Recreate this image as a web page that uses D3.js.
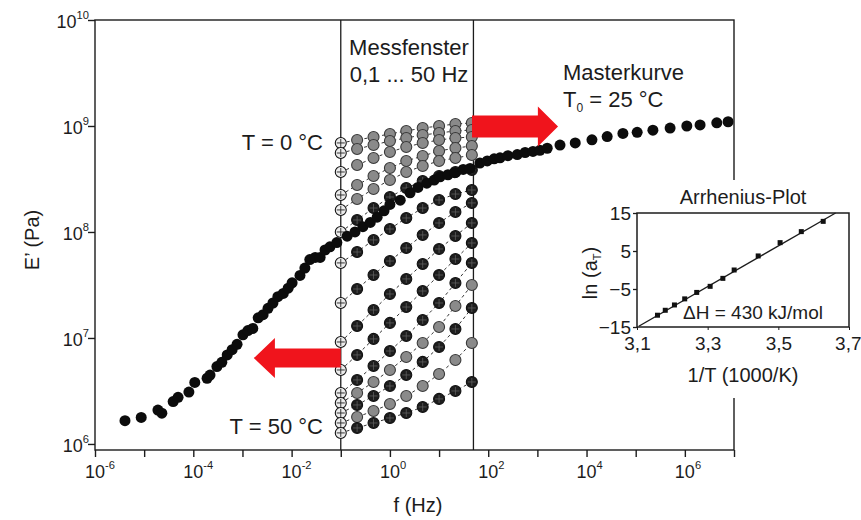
<!DOCTYPE html>
<html>
<head>
<meta charset="utf-8">
<script src="https://cdn.jsdelivr.net/npm/d3@7"></script>
<style>
  body { margin: 0; background: #fff; }
  svg text { font-family: "Liberation Sans", Arial, sans-serif; fill: #1c1c1c; }
</style>
</head>
<body>
<svg id="chart" width="861" height="520"></svg>
<script>
// ---- data (log10 values) ----
const xTickExps = [-6, -5, -4, -3, -2, -1, 0, 1, 2, 3, 4, 5, 6, 7];
const xLabelExps = [-6, -4, -2, 0, 2, 4, 6];
const yTickExps = [6, 7, 8, 9, 10];

// master curve, T0 = 25 °C
const masterLogF = [-5.39, -5.06, -4.72, -4.64, -4.41, -4.31, -4.09, -3.97, -3.72, -3.66,
  -3.52, -3.42, -3.31, -3.21, -3.11, -2.99, -2.89, -2.79, -2.68, -2.58, -2.48, -2.38,
  -2.28, -2.17, -2.07, -1.99, -1.83, -1.73, -1.63, -1.52, -1.42, -1.32, -1.22, -1.08,
  -0.87, -0.71, -0.55, -0.40, -0.26, -0.12, 0.00, 0.21, 0.41, 0.57, 0.75, 0.90, 1.02,
  1.18, 1.32, 1.49, 1.63, 1.83, 1.98, 2.12, 2.24, 2.40, 2.59, 2.75, 2.91, 3.05, 3.20,
  3.46, 3.77, 4.11, 4.42, 4.74, 5.03, 5.35, 5.70, 6.04, 6.31, 6.65, 6.88];
const masterLogE = [6.22, 6.25, 6.32, 6.29, 6.40, 6.44, 6.49, 6.58, 6.62, 6.65,
  6.73, 6.77, 6.84, 6.89, 6.94, 7.03, 7.07, 7.09, 7.19, 7.22, 7.28, 7.33,
  7.39, 7.42, 7.47, 7.52, 7.59, 7.66, 7.74, 7.76, 7.76, 7.83, 7.86, 7.90,
  7.96, 8.00, 8.05, 8.09, 8.14, 8.20, 8.26, 8.30, 8.37, 8.42, 8.46, 8.49, 8.52,
  8.54, 8.56, 8.59, 8.60, 8.65, 8.67, 8.69, 8.70, 8.72, 8.73, 8.75, 8.76, 8.77, 8.79,
  8.82, 8.84, 8.87, 8.90, 8.93, 8.94, 8.96, 8.98, 9.00, 9.01, 9.03, 9.04];

// isotherms in the measuring window, T = 0 °C (top) ... 50 °C (bottom)
const isoFreq = [0.1, 0.215, 0.464, 1, 2.15, 4.64, 10, 21.5, 46.4];
const isoLogE = [
  [8.840, 8.868, 8.896, 8.925, 8.953, 8.981, 9.000, 9.019, 9.028],
  [8.745, 8.783, 8.821, 8.858, 8.887, 8.915, 8.934, 8.953, 8.962],
  [8.566, 8.632, 8.698, 8.755, 8.802, 8.840, 8.868, 8.887, 8.896],
  [8.349, 8.443, 8.528, 8.604, 8.670, 8.717, 8.764, 8.792, 8.811],
  [8.208, 8.311, 8.406, 8.491, 8.566, 8.623, 8.670, 8.698, 8.726],
  [8.000, 8.113, 8.226, 8.330, 8.415, 8.481, 8.528, 8.566, 8.585],
  [7.708, 7.811, 7.925, 8.028, 8.132, 8.226, 8.302, 8.358, 8.396],
  [7.330, 7.462, 7.594, 7.726, 7.849, 7.972, 8.085, 8.189, 8.274],
  [6.962, 7.113, 7.264, 7.415, 7.557, 7.698, 7.840, 7.962, 8.085],
  [6.698, 6.840, 6.991, 7.142, 7.292, 7.443, 7.594, 7.745, 7.896],
  [6.481, 6.604, 6.736, 6.877, 7.019, 7.170, 7.330, 7.519, 7.708],
  [6.387, 6.481, 6.585, 6.698, 6.821, 6.953, 7.104, 7.302, 7.500],
  [6.292, 6.368, 6.453, 6.547, 6.651, 6.774, 6.915, 7.085, 7.283],
  [6.198, 6.255, 6.311, 6.377, 6.453, 6.547, 6.660, 6.792, 6.953],
  [6.104, 6.151, 6.198, 6.245, 6.292, 6.349, 6.425, 6.500, 6.585]
];
const isoShade = ['grey', 'grey', 'grey', 'grey', 'grey', 'dark', 'dark', 'dark',
  'dark', 'dark', 'dark', 'grey', 'dark', 'grey', 'dark'];

// measuring window 0.1 ... 50 Hz
const windowF = [0.1, 50];

// shift arrows: tail, head base, tip (log f) and level (log E')
const arrows = [
  { tail: -1.0, head: -2.34, tip: -2.77, level: 6.81, shaft: 9.5 },
  { tail: 1.67, head: 3.01, tip: 3.42, level: 8.995, shaft: 11 }
];

// Arrhenius inset
const ahInvT = [3.158, 3.180, 3.206, 3.235, 3.269, 3.307, 3.343, 3.375, 3.443, 3.505, 3.565, 3.627];
const ahLnA = [-11.9, -10.6, -9.2, -7.6, -5.9, -4.3, -2.2, 0.0, 3.7, 7.2, 10.1, 12.8];
const ahFitX = [3.105, 3.662];
const ahFitY = [-14.8, 15.0];
const ahXTicks = [3.1, 3.3, 3.5, 3.7];
const ahYTicks = [15, 5, -5, -15];

// ---- drawing ----
const svg = d3.select('#chart');
const INK = '#1c1c1c';

const x = d3.scaleLog().domain([1e-6, 1e7]).range([95, 734]);
const y = d3.scaleLog().domain([Math.pow(10, 5.943), 1e10]).range([450, 20]);
const yBottom = y.range()[0], yTop = y.range()[1];

function powLabel(t, exp, fs) {
  t.append('tspan').text('10');
  t.append('tspan').attr('font-size', fs * 0.62).attr('dy', -fs * 0.48).text(exp);
}

// window lines
svg.append('g').selectAll('line').data(windowF).join('line')
  .attr('x1', d => x(d)).attr('x2', d => x(d))
  .attr('y1', yTop).attr('y2', yBottom)
  .attr('stroke', INK).attr('stroke-width', 1.3);

// isotherm dashed lines
const isoData = isoLogE.map((row, i) => row.map((e, j) => ({ f: isoFreq[j], e: Math.pow(10, e), j, shade: isoShade[i] })));
const line = d3.line().x(d => x(d.f)).y(d => y(d.e));
svg.append('g').selectAll('path').data(isoData).join('path')
  .attr('d', line).attr('fill', 'none')
  .attr('stroke', '#333').attr('stroke-width', 1).attr('stroke-dasharray', '3,3');

// isotherm markers
const R = 5.5;
const marks = svg.append('g').selectAll('g').data(isoData.flat()).join('g')
  .attr('transform', d => `translate(${x(d.f)},${y(d.e)})`);
marks.append('circle').attr('r', R)
  .attr('fill', d => d.j === 0 ? '#ececec' : (d.shade === 'grey' ? '#8a8a8a' : '#1e1e1e'))
  .attr('stroke', d => d.shade === 'grey' && d.j > 0 ? '#3a3a3a' : '#111')
  .attr('stroke-width', 1.1);
marks.filter(d => d.j === 0 || d.shade === 'dark').each(function (d) {
  const g = d3.select(this);
  const c = d.j === 0 ? '#222' : '#666';
  const w = d.j === 0 ? 0.9 : 0.7;
  g.append('line').attr('x1', -R + 1.5).attr('x2', R - 1.5).attr('stroke', c).attr('stroke-width', w);
  g.append('line').attr('y1', -R + 1.5).attr('y2', R - 1.5).attr('stroke', c).attr('stroke-width', w);
});

// master curve
svg.append('g').selectAll('circle').data(masterLogF.map((f, i) => ({ f: Math.pow(10, f), e: Math.pow(10, masterLogE[i]) })))
  .join('circle')
  .attr('cx', d => x(d.f)).attr('cy', d => y(d.e)).attr('r', R).attr('fill', '#0c0c0c');

// frame and axes
svg.append('rect')
  .attr('x', x(1e-6)).attr('y', yTop)
  .attr('width', x(1e7) - x(1e-6)).attr('height', yBottom - yTop)
  .attr('fill', 'none').attr('stroke', INK).attr('stroke-width', 1.4);

svg.append('g').attr('transform', `translate(0,${yBottom})`)
  .call(d3.axisBottom(x).tickValues(xTickExps.map(e => Math.pow(10, e))).tickSize(7).tickFormat(''))
  .call(g => g.select('.domain').remove())
  .call(g => g.selectAll('line').attr('stroke', INK).attr('stroke-width', 1.4));

svg.append('g').attr('transform', `translate(${x(1e-6)},0)`)
  .call(d3.axisLeft(y).tickValues(yTickExps.map(e => Math.pow(10, e))).tickSize(7).tickFormat(''))
  .call(g => g.select('.domain').remove())
  .call(g => g.selectAll('line').attr('stroke', INK).attr('stroke-width', 1.4));

const FS = 18;
svg.append('g').selectAll('text').data(xLabelExps).join('text')
  .attr('x', d => x(Math.pow(10, d)) - 10).attr('y', 478)
  .attr('font-size', FS)
  .each(function (d) { powLabel(d3.select(this), String(d), FS); });

svg.append('g').selectAll('text').data(yTickExps).join('text')
  .attr('x', 89).attr('y', d => y(Math.pow(10, d)) + 8)
  .attr('text-anchor', 'end').attr('font-size', FS)
  .each(function (d) { powLabel(d3.select(this), String(d), FS); });

svg.append('text').attr('x', 418).attr('y', 512).attr('text-anchor', 'middle')
  .attr('font-size', 20).text('f (Hz)');
svg.append('text').attr('transform', 'translate(39,240) rotate(-90)').attr('text-anchor', 'middle')
  .attr('font-size', 20).text('E’ (Pa)');

// shift arrows
svg.append('g').selectAll('path').data(arrows).join('path')
  .attr('d', a => {
    const xt = x(Math.pow(10, a.tail)), xh = x(Math.pow(10, a.head)), xp = x(Math.pow(10, a.tip));
    const cy = y(Math.pow(10, a.level)), hh = 20;
    return d3.line()([[xt, cy - a.shaft], [xh, cy - a.shaft], [xh, cy - hh], [xp, cy],
      [xh, cy + hh], [xh, cy + a.shaft], [xt, cy + a.shaft]]) + 'Z';
  })
  .attr('fill', '#f0141c');

// annotations
const AFS = 22;
svg.append('text').attr('x', 409).attr('y', 55).attr('text-anchor', 'middle').attr('font-size', AFS).text('Messfenster');
svg.append('text').attr('x', 409).attr('y', 82).attr('text-anchor', 'middle').attr('font-size', AFS).text('0,1 ... 50 Hz');
svg.append('text').attr('x', 563).attr('y', 80).attr('font-size', AFS).text('Masterkurve');
const t0 = svg.append('text').attr('x', 563).attr('y', 107).attr('font-size', AFS);
t0.append('tspan').text('T');
t0.append('tspan').attr('font-size', 12).attr('dy', 5).text('0');
t0.append('tspan').attr('dy', -5).text(' = 25 °C');
svg.append('text').attr('x', 323).attr('y', 150).attr('text-anchor', 'end').attr('font-size', AFS).text('T = 0 °C');
svg.append('text').attr('x', 323).attr('y', 434).attr('text-anchor', 'end').attr('font-size', AFS).text('T = 50 °C');

// ---- Arrhenius inset ----
const inset = svg.append('g');
inset.append('rect').attr('x', 578).attr('y', 180).attr('width', 283).attr('height', 218).attr('fill', '#fff');

const ix = d3.scaleLinear().domain([3.1, 3.7]).range([637, 849]);
const iy = d3.scaleLinear().domain([-15, 15]).range([327, 213]);
const IFS = 19;

inset.append('g').attr('transform', 'translate(0,327)')
  .call(d3.axisBottom(ix).tickValues(ahXTicks).tickSize(3).tickPadding(7)
    .tickFormat(d => d3.format('.1f')(d).replace('.', ',')))
  .call(g => g.select('.domain').remove())
  .call(g => g.selectAll('text').attr('font-size', IFS))
  .call(g => g.selectAll('text').filter(d => d === 3.7).attr('text-anchor', 'end').attr('dx', 12))
  .call(g => g.selectAll('line').attr('stroke', INK));

inset.append('g').attr('transform', 'translate(637,0)')
  .call(d3.axisLeft(iy).tickValues(ahYTicks).tickSize(4).tickPadding(2))
  .call(g => g.select('.domain').remove())
  .call(g => g.selectAll('text').attr('font-size', IFS))
  .call(g => g.selectAll('line').attr('stroke', INK).attr('stroke-width', 1.3));

inset.append('rect')
  .attr('x', ix(3.1)).attr('y', iy(15)).attr('width', ix(3.7) - ix(3.1)).attr('height', iy(-15) - iy(15))
  .attr('fill', 'none').attr('stroke', INK).attr('stroke-width', 1.5);

inset.append('line')
  .attr('x1', ix(ahFitX[0])).attr('y1', iy(ahFitY[0]))
  .attr('x2', ix(ahFitX[1])).attr('y2', iy(ahFitY[1]))
  .attr('stroke', INK).attr('stroke-width', 1.4);

inset.append('g').selectAll('rect').data(ahInvT.map((v, i) => [v, ahLnA[i]])).join('rect')
  .attr('x', d => ix(d[0]) - 2.5).attr('y', d => iy(d[1]) - 2.5)
  .attr('width', 5).attr('height', 5).attr('fill', '#111');

inset.append('text').attr('x', 743).attr('y', 204).attr('text-anchor', 'middle').attr('font-size', 20).text('Arrhenius-Plot');
inset.append('text').attr('x', 743).attr('y', 382).attr('text-anchor', 'middle').attr('font-size', 20).text('1/T (1000/K)');
inset.append('text').attr('x', 683).attr('y', 319).attr('font-size', IFS).text('ΔH = 430 kJ/mol');
const lnA = inset.append('text').attr('transform', 'translate(597,273) rotate(-90)').attr('text-anchor', 'middle').attr('font-size', 20);
lnA.append('tspan').text('ln (a');
lnA.append('tspan').attr('font-size', 11).attr('dy', 4).text('T');
lnA.append('tspan').attr('dy', -4).text(')');
</script>
</body>
</html>
